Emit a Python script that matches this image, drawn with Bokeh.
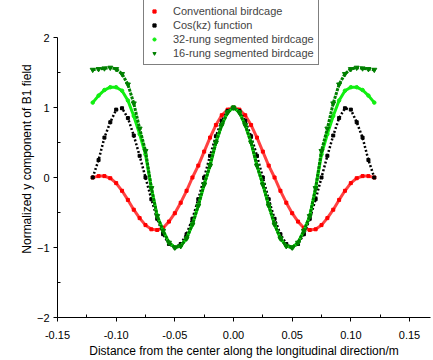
from bokeh.plotting import figure
from bokeh.models import FixedTicker, NumeralTickFormatter, Legend, LegendItem, Range1d
from bokeh.embed import file_html
from bokeh.resources import INLINE

z = [-0.120, -0.115, -0.110, -0.105, -0.100, -0.095, -0.090, -0.085, -0.080, -0.075,
     -0.070, -0.065, -0.060, -0.055, -0.050, -0.045, -0.040, -0.035, -0.030, -0.025,
     -0.020, -0.015, -0.010, -0.005, 0.000, 0.005, 0.010, 0.015, 0.020, 0.025,
     0.030, 0.035, 0.040, 0.045, 0.050, 0.055, 0.060, 0.065, 0.070, 0.075,
     0.080, 0.085, 0.090, 0.095, 0.100, 0.105, 0.110, 0.115, 0.120]

conventional = [0.00, 0.02, 0.02, -0.01, -0.08, -0.19, -0.32, -0.46, -0.58, -0.68,
                -0.74, -0.75, -0.72, -0.63, -0.51, -0.36, -0.19, 0.00, 0.17, 0.37,
                0.57, 0.75, 0.89, 0.97, 1.00, 0.97, 0.89, 0.75, 0.57, 0.37,
                0.17, 0.00, -0.19, -0.36, -0.51, -0.63, -0.72, -0.75, -0.74, -0.68,
                -0.58, -0.46, -0.32, -0.19, -0.08, -0.01, 0.02, 0.02, 0.00]

cos_kz = [0.00, 0.25, 0.57, 0.79, 0.97, 0.99, 0.85, 0.60, 0.31, 0.00,
          -0.31, -0.59, -0.81, -0.95, -1.00, -0.95, -0.81, -0.59, -0.31, 0.00,
          0.31, 0.59, 0.81, 0.95, 1.00, 0.95, 0.81, 0.59, 0.31, 0.00,
          -0.31, -0.59, -0.81, -0.95, -1.00, -0.95, -0.81, -0.59, -0.31, 0.00,
          0.31, 0.60, 0.85, 0.99, 0.97, 0.79, 0.57, 0.25, 0.00]

rung32 = [1.07, 1.17, 1.25, 1.29, 1.29, 1.24, 1.10, 0.88, 0.62, 0.33,
          -0.15, -0.55, -0.76, -0.93, -1.00, -0.98, -0.87, -0.67, -0.40, -0.10,
          0.17, 0.50, 0.75, 0.93, 1.00, 0.93, 0.75, 0.50, 0.17, -0.10,
          -0.40, -0.67, -0.87, -0.98, -1.00, -0.93, -0.76, -0.55, -0.15, 0.33,
          0.62, 0.88, 1.10, 1.24, 1.29, 1.29, 1.25, 1.17, 1.07]

rung16 = [1.54, 1.55, 1.56, 1.57, 1.55, 1.48, 1.33, 1.06, 0.70, 0.38,
          -0.15, -0.55, -0.76, -0.93, -1.00, -0.98, -0.87, -0.67, -0.40, -0.10,
          0.17, 0.50, 0.75, 0.93, 1.00, 0.93, 0.75, 0.50, 0.17, -0.10,
          -0.40, -0.67, -0.87, -0.98, -1.00, -0.93, -0.76, -0.55, -0.15, 0.38,
          0.70, 1.06, 1.33, 1.48, 1.55, 1.57, 1.56, 1.55, 1.54]

labels = ["Conventional birdcage", "Cos(kz) function",
          "32-rung segmented birdcage", "16-rung segmented birdcage"]

x_ticks = [-0.15, -0.10, -0.05, 0.00, 0.05, 0.10, 0.15]
x_minor = [-0.125, -0.075, -0.025, 0.025, 0.075, 0.125]
y_ticks = [-2, -1, 0, 1, 2]
y_minor = [-1.5, -0.5, 0.5, 1.5]

FONT = "Liberation Sans"

# frame extends above y=2 so that the legend (which sits above the axis top) is not clipped
p = figure(width=433, height=360, output_backend="svg", toolbar_location=None,
           x_range=Range1d(-0.15, 0.1679), y_range=Range1d(-2, 2.529),
           min_border_left=57, min_border_right=3, min_border_top=0,
           min_border_bottom=43)
p.outline_line_color = None
p.xgrid.visible = False
p.ygrid.visible = False
p.background_fill_color = "white"

for ax in (p.xaxis[0], p.yaxis[0]):
    ax.major_tick_in = 0
    ax.major_tick_out = 4
    ax.minor_tick_in = 3
    ax.minor_tick_out = 0
    ax.axis_line_color = "black"
    ax.major_label_text_font = FONT
    ax.major_label_text_font_size = "11px"
    ax.major_label_text_color = "black"
    ax.axis_label_text_font = FONT
    ax.axis_label_text_font_size = "12px"
    ax.axis_label_text_font_style = "normal"
    ax.axis_label_text_color = "black"

p.xaxis.ticker = FixedTicker(ticks=x_ticks, minor_ticks=x_minor)
p.xaxis.formatter = NumeralTickFormatter(format="0.00")
p.yaxis.ticker = FixedTicker(ticks=y_ticks, minor_ticks=y_minor)
p.yaxis.bounds = (y_ticks[0], y_ticks[-1])
p.xaxis.axis_label = "Distance from the center along the longitudinal direction/m"
p.yaxis.axis_label = "Normalized y component of B1 field"
p.xaxis.major_label_standoff = 9
p.xaxis.axis_label_standoff = 2
p.yaxis.major_label_standoff = 4
p.yaxis.axis_label_standoff = 0

# conventional
p.line(z, conventional, line_color="#ff2020", line_width=3, line_alpha=0.85)
r1 = p.scatter(z, conventional, marker="square", size=3, color="#ff0000")
# cos(kz)
p.line(z, cos_kz, line_color="black", line_width=2.5, line_dash="2 2")
r2 = p.scatter(z, cos_kz, marker="square", size=3, color="black")
# 32 rung
p.line(z, rung32, line_color="#11ee11", line_width=3)
r3 = p.scatter(z, rung32, marker="circle", size=3.5, color="#11ee11")
# 16 rung
p.line(z, rung16, line_color="#008000", line_width=3, line_dash="3 1")
r4 = p.scatter(z, rung16, marker="inverted_triangle", size=5, color="#008000")

legend = Legend(items=[LegendItem(label=labels[0], renderers=[r1]),
                       LegendItem(label=labels[1], renderers=[r2]),
                       LegendItem(label=labels[2], renderers=[r3]),
                       LegendItem(label=labels[3], renderers=[r4])],
                location=(86, 252))
legend.border_line_color = "black"
legend.border_line_width = 1
legend.background_fill_alpha = 1
legend.label_text_font = FONT
legend.label_text_font_size = "11px"
legend.label_height = 14
legend.glyph_height = 8
legend.glyph_width = 12
legend.spacing = 0
legend.padding = 4
legend.margin = 0
legend.label_standoff = 13
p.add_layout(legend, "center")

open("out.html", "w").write(file_html(p, INLINE))
